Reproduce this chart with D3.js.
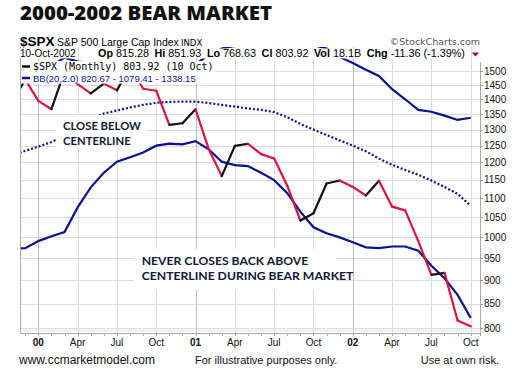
<!DOCTYPE html>
<html>
<head>
<meta charset="utf-8">
<script src="https://cdn.jsdelivr.net/npm/d3@7"></script>
<style>
  body { margin: 0; background: #fff; }
  svg { display: block; }
</style>
</head>
<body>
<div id="chart"></div>
<script>
// données mensuelles (nov. 1999 -> oct. 2002)
const mois = ["1999-11","1999-12",
  "2000-01","2000-02","2000-03","2000-04","2000-05","2000-06","2000-07","2000-08","2000-09","2000-10","2000-11","2000-12",
  "2001-01","2001-02","2001-03","2001-04","2001-05","2001-06","2001-07","2001-08","2001-09","2001-10","2001-11","2001-12",
  "2002-01","2002-02","2002-03","2002-04","2002-05","2002-06","2002-07","2002-08","2002-09","2002-10"];
const clotures = [1388.91, 1469.25,
  1394.46, 1366.42, 1498.58, 1452.43, 1420.60, 1454.60, 1430.83, 1517.68, 1436.51, 1429.40, 1314.95, 1320.28,
  1366.01, 1239.94, 1160.33, 1249.46, 1255.82, 1224.42, 1211.23, 1133.58, 1040.94, 1059.78, 1139.45, 1148.08,
  1130.20, 1106.73, 1147.39, 1076.92, 1067.14, 989.82, 911.62, 916.07, 815.28, 803.92];
const bandeBasse = [972, 973,
  990, 1002, 1012, 1075, 1129, 1170, 1202, 1215, 1229, 1250, 1256, 1254,
  1264, 1239, 1202, 1192, 1189, 1170, 1149, 1113, 1064, 1024, 1009, 999,
  987, 975, 973, 977, 977, 967, 932, 904, 868, 820.67];
const bandeMilieu = [1220, 1234,
  1247, 1261, 1282, 1307, 1332, 1352, 1362, 1372, 1381, 1388, 1391, 1392,
  1392, 1387, 1381, 1375, 1369, 1364, 1357, 1340, 1318, 1300, 1283, 1266,
  1250, 1233, 1211, 1193, 1178, 1164, 1148, 1130, 1111, 1079.41];
const bandeHaute = [1470, 1495,
  1505, 1520, 1550, 1535, 1530, 1530, 1522, 1529, 1533, 1526, 1526, 1530,
  1525, 1560, 1585, 1595, 1600, 1600, 1600, 1600, 1600, 1598, 1585, 1552,
  1530, 1505, 1482, 1435, 1400, 1364, 1358, 1345, 1331, 1338.15];

const ticksY = [800, 850, 900, 950, 1000, 1050, 1100, 1150, 1200, 1250, 1300, 1350, 1400, 1450, 1500];
const ticksMois = ["2000-01","2000-04","2000-07","2000-10","2001-01","2001-04","2001-07","2001-10","2002-01","2002-04","2002-07","2002-10"];
const ticksLabels = ["00","Apr","Jul","Oct","01","Apr","Jul","Oct","02","Apr","Jul","Oct"];

const largeur = 521, hauteur = 370;
const zone = {gauche: 20, droite: 480, haut: 47, bas: 333};
const bleu = "#0b128f", rouge = "#dc143c";

const svg = d3.select("#chart").append("svg")
  .attr("width", largeur).attr("height", hauteur);

const x = d3.scaleLinear().domain([0.6, 35.71]).range([zone.gauche, zone.droite]);
const y = d3.scaleLog().domain([790.9, 1590.7]).range([zone.bas, zone.haut]);

svg.append("clipPath").attr("id", "clip").append("rect")
  .attr("x", zone.gauche).attr("y", zone.haut)
  .attr("width", zone.droite - zone.gauche).attr("height", zone.bas - zone.haut);

// grille
const grille = svg.append("g");
grille.selectAll("line.h").data(ticksY).enter().append("line")
  .attr("x1", zone.gauche).attr("x2", zone.droite)
  .attr("y1", d => Math.round(y(d)) + 0.5).attr("y2", d => Math.round(y(d)) + 0.5)
  .attr("stroke", "#dcdcdc");
grille.selectAll("line.v").data(ticksMois).enter().append("line")
  .attr("x1", d => Math.round(x(mois.indexOf(d))) + 0.5).attr("x2", d => Math.round(x(mois.indexOf(d))) + 0.5)
  .attr("y1", zone.haut).attr("y2", zone.bas)
  .attr("stroke", (d, i) => ticksLabels[i].length === 2 ? "#bdbdbd" : "#dcdcdc");

// bandes de Bollinger
const traces = svg.append("g").attr("clip-path", "url(#clip)");
const ligne = d3.line().x((d, i) => x(i)).y(d => y(d));
traces.append("path").attr("d", ligne(bandeHaute))
  .attr("fill", "none").attr("stroke", bleu).attr("stroke-width", 2.2);
traces.append("path").attr("d", ligne(bandeBasse))
  .attr("fill", "none").attr("stroke", bleu).attr("stroke-width", 2.2);
traces.append("path").attr("d", ligne(bandeMilieu))
  .attr("fill", "none").attr("stroke", bleu).attr("stroke-width", 2.2)
  .attr("stroke-dasharray", "2,2");

// clôtures, noir si hausse, rouge si baisse
const segments = clotures.slice(1).map((c, i) => ({a: i, b: i + 1, hausse: c >= clotures[i]}));
traces.selectAll("line.seg").data(segments).enter().append("line")
  .attr("x1", d => x(d.a)).attr("y1", d => y(clotures[d.a]))
  .attr("x2", d => x(d.b)).attr("y2", d => y(clotures[d.b]))
  .attr("stroke", d => d.hausse ? "#111" : rouge)
  .attr("stroke-width", 2.2).attr("stroke-linecap", "round");

// cadre et axes
svg.append("line").attr("x1", zone.gauche + 0.5).attr("x2", zone.gauche + 0.5)
  .attr("y1", zone.haut).attr("y2", zone.bas).attr("stroke", "#aaa");
svg.append("line").attr("x1", zone.droite + 0.5).attr("x2", zone.droite + 0.5)
  .attr("y1", 62).attr("y2", zone.bas + 3).attr("stroke", "#aaa");
svg.append("line").attr("x1", zone.gauche).attr("x2", zone.droite + 1)
  .attr("y1", zone.bas + 0.5).attr("y2", zone.bas + 0.5).attr("stroke", "#aaa");
svg.append("line").attr("x1", zone.gauche).attr("x2", zone.droite + 1)
  .attr("y1", zone.bas - 2.5).attr("y2", zone.bas - 2.5).attr("stroke", "#e4e4e4");

const axeY = svg.append("g");
axeY.selectAll("line").data(ticksY).enter().append("line")
  .attr("x1", zone.droite).attr("x2", zone.droite + 3)
  .attr("y1", d => Math.round(y(d)) + 0.5).attr("y2", d => Math.round(y(d)) + 0.5)
  .attr("stroke", "#999");
axeY.selectAll("text").data(ticksY).enter().append("text")
  .attr("x", 484).attr("y", d => y(d) + 3.6)
  .style("font", "10px 'Liberation Sans', Arial, sans-serif").attr("fill", "#111")
  .text(d => d);

const axeX = svg.append("g");
axeX.selectAll("line").data(mois.slice(1)).enter().append("line")
  .attr("x1", (d, i) => Math.round(x(i + 1)) + 0.5).attr("x2", (d, i) => Math.round(x(i + 1)) + 0.5)
  .attr("y1", zone.bas).attr("y2", zone.bas + 3).attr("stroke", "#aaa");
axeX.selectAll("text").data(ticksMois).enter().append("text")
  .attr("x", d => x(mois.indexOf(d))).attr("y", 346)
  .attr("text-anchor", "middle")
  .style("font-family", "'Liberation Sans', Arial, sans-serif").style("font-size", "10px")
  .style("font-weight", (d, i) => ticksLabels[i].length === 2 ? "bold" : "normal")
  .attr("fill", "#111")
  .text((d, i) => ticksLabels[i]);

// légende
svg.append("rect").attr("x", 21).attr("y", 61).attr("width", 194).attr("height", 22.5).attr("fill", "#fff");
svg.append("line").attr("x1", 22).attr("x2", 30).attr("y1", 66.5).attr("y2", 66.5).attr("stroke", "#000").attr("stroke-width", 2.5);
svg.append("text").attr("x", 33).attr("y", 70)
  .style("font", "10px 'DejaVu Sans Mono', monospace").attr("fill", "#000")
  .text("$SPX (Monthly) 803.92 (10 Oct)");
svg.append("line").attr("x1", 22).attr("x2", 30).attr("y1", 78).attr("y2", 78).attr("stroke", bleu).attr("stroke-width", 2.5);
svg.append("text").attr("x", 33).attr("y", 81.5)
  .style("font", "9.5px 'Liberation Sans', Arial, sans-serif").attr("fill", bleu)
  .text("BB(20,2.0) 820.67 - 1079.41 - 1338.15");

// en-tête
svg.append("text").attr("x", 20).attr("y", 20)
  .attr("textLength", 252).attr("lengthAdjust", "spacingAndGlyphs")
  .style("font", "800 20px 'Open Sans', sans-serif").attr("fill", "#111")
  .text("2000-2002 BEAR MARKET");

svg.append("text").attr("x", 20).attr("y", 46)
  .style("font", "bold 13.5px 'Liberation Sans', Arial, sans-serif").attr("fill", "#000").text("$SPX");
svg.append("text").attr("x", 57).attr("y", 46)
  .style("font", "10.5px 'Liberation Sans', Arial, sans-serif").attr("fill", "#000").text("S&P 500 Large Cap Index");
svg.append("text").attr("x", 181).attr("y", 46)
  .style("font", "8.5px 'DejaVu Sans', sans-serif").attr("fill", "#000").text("INDX");
svg.append("text").attr("x", 480).attr("y", 45).attr("text-anchor", "end")
  .style("font", "9.5px 'DejaVu Sans', sans-serif").attr("fill", "#555").text("\u00A9StockCharts.com");

const entete = [
  {lab: "Op", val: "815.28"},
  {lab: "Hi", val: "851.93"},
  {lab: "Lo", val: "768.63"},
  {lab: "Cl", val: "803.92"},
  {lab: "Vol", val: "18.1B"},
  {lab: "Chg", val: "-11.36 (-1.39%)"}
];
const gEntete = svg.append("g");
const tDate = gEntete.append("text").attr("x", 20).attr("y", 57)
  .style("font", "10px 'Liberation Sans', Arial, sans-serif").attr("fill", "#000").text("10-Oct-2002");
const tCours = gEntete.append("text").attr("x", 98).attr("y", 57)
  .style("font-family", "'Liberation Sans', Arial, sans-serif").style("font-size", "10.8px").attr("fill", "#000");
entete.forEach((e, i) => {
  tCours.append("tspan").attr("dx", i === 0 ? 0 : 5.5).style("font-weight", "bold").text(e.lab);
  tCours.append("tspan").attr("dx", 3).text(e.val);
});
[tDate, tCours].forEach(t => {
  const b = t.node().getBBox();
  gEntete.insert("rect", "text").attr("x", b.x - 1).attr("y", 48.5)
    .attr("width", b.width + 2).attr("height", 10).attr("fill", "#fff");
});
svg.append("path").attr("d", "M472,52.5 L479,52.5 L475.5,56.5 Z").attr("fill", "#a0102a");

// annotations
function annotation(xb, yb, lb, hb, lignes, xt, yt, taille) {
  svg.append("rect").attr("x", xb).attr("y", yb).attr("width", lb).attr("height", hb).attr("fill", "#fff");
  lignes.forEach((l, i) => {
    svg.append("text").attr("x", xt).attr("y", yt + i * 15)
      .style("font", `bold ${taille}px Lato, sans-serif`).attr("fill", "#111a33").text(l);
  });
}
annotation(56, 115, 91, 33, ["CLOSE BELOW", "CENTERLINE"], 63, 129.5, 11.3);
annotation(134, 249, 202, 41, ["NEVER CLOSES BACK ABOVE", "CENTERLINE DURING BEAR MARKET"], 141.7, 265, 12.2);

// pied de page
const pied = "'Liberation Sans', Arial, sans-serif";
svg.append("text").attr("x", 19).attr("y", 364).style("font", "12px " + pied).attr("fill", "#111").text("www.ccmarketmodel.com");
svg.append("text").attr("x", 195).attr("y", 364).style("font", "11px " + pied).attr("fill", "#111").text("For illustrative purposes only.");
svg.append("text").attr("x", 499).attr("y", 364).attr("text-anchor", "end").style("font", "11px " + pied).attr("fill", "#111").text("Use at own risk.");
</script>
</body>
</html>
